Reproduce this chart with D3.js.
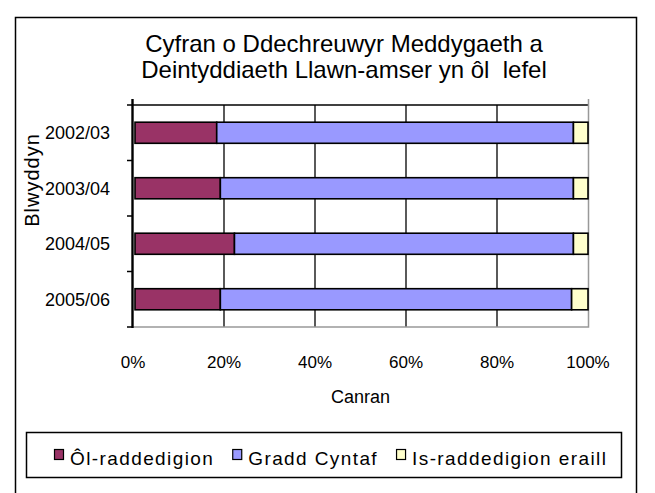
<!DOCTYPE html>
<html>
<head>
<meta charset="utf-8">
<script src="https://cdn.jsdelivr.net/npm/d3@7"></script>
<style>
  body { margin: 0; background: #fff; }
  svg { display: block; font-family: "Liberation Sans", Arial, sans-serif; }
</style>
</head>
<body>
<svg id="chart" width="655" height="493"></svg>
<script>
// chart data (percent of full-time starters)
const years = ["2002/03", "2003/04", "2004/05", "2005/06"];
const seriesNames = ["Ôl-raddedigion", "Gradd Cyntaf", "Is-raddedigion eraill"];
const olRadd = [18.4, 19.2, 22.3, 19.2];
const graddCyntaf = [78.4, 77.6, 74.5, 77.2];
const isRadd = [3.2, 3.2, 3.2, 3.6];
const xTicks = [0, 20, 40, 60, 80, 100];
const colors = ["#993366", "#9999ff", "#ffffcc"];
const titleLines = ["Cyfran o Ddechreuwyr Meddygaeth a", "Deintyddiaeth Llawn-amser yn ôl  lefel"];

const svg = d3.select("#chart");

// outer frame
svg.append("rect")
    .attr("x", 15.5).attr("y", 17.5)
    .attr("width", 621).attr("height", 500)
    .attr("fill", "#fff").attr("stroke", "#000").attr("stroke-width", 1.5);

const plot = { left: 133, right: 588, top: 105, bottom: 327 };

const x = d3.scaleLinear().domain([0, 100]).range([plot.left, plot.right]);
const y = d3.scaleBand().domain(years)
    .range([plot.top, plot.bottom])
    .paddingInner(0.62).paddingOuter(0.31);

// title
svg.append("text")
    .attr("x", 344).attr("y", 52)
    .attr("text-anchor", "middle")
    .attr("font-size", 24)
    .style("white-space", "pre")
    .selectAll("tspan")
    .data(titleLines)
    .join("tspan")
    .attr("x", 344)
    .attr("dy", (d, i) => i === 0 ? 0 : 26)
    .text(d => d);

// vertical gridlines
svg.append("g")
    .selectAll("line")
    .data(xTicks.filter(t => t > 0 && t < 100))
    .join("line")
    .attr("x1", d => x(d)).attr("x2", d => x(d))
    .attr("y1", plot.top).attr("y2", plot.bottom)
    .attr("stroke", "#000").attr("stroke-width", 1.3);

// plot borders
svg.append("line")
    .attr("x1", plot.left).attr("x2", plot.right)
    .attr("y1", plot.top).attr("y2", plot.top)
    .attr("stroke", "#000").attr("stroke-width", 1.6);
svg.append("path")
    .attr("d", `M${plot.left},${plot.bottom}H${plot.right + 0.5}V${plot.top - 6}`)
    .attr("fill", "none").attr("stroke", "#999").attr("stroke-width", 1.5);

// stacked bars
const rows = years.map((yr, i) => ({
    year: yr,
    [seriesNames[0]]: olRadd[i],
    [seriesNames[1]]: graddCyntaf[i],
    [seriesNames[2]]: isRadd[i]
}));
const stacked = d3.stack().keys(seriesNames)(rows);

svg.append("g")
    .selectAll("g")
    .data(stacked)
    .join("g")
    .attr("fill", (d, i) => colors[i])
    .selectAll("rect")
    .data(d => d)
    .join("rect")
    .attr("x", d => x(d[0]) + (d[0] === 0 ? 2 : 0))
    .attr("y", d => y(d.data.year))
    .attr("width", d => Math.max(0, x(d[1]) - x(d[0]) - (d[0] === 0 ? 2 : 0)))
    .attr("height", y.bandwidth())
    .attr("stroke", "#000").attr("stroke-width", 1.6);

// y axis line and ticks at band boundaries
const yAxis = svg.append("g");
yAxis.append("line")
    .attr("x1", plot.left - 0.5).attr("x2", plot.left - 0.5)
    .attr("y1", plot.top - 6).attr("y2", plot.bottom + 1)
    .attr("stroke", "#000").attr("stroke-width", 2.4);
const bounds = years.map(yr => y(yr) - y.step() * 0.31).concat([plot.bottom]);
yAxis.selectAll(".tick")
    .data(bounds)
    .join("line")
    .attr("x1", plot.left - 6).attr("x2", plot.left)
    .attr("y1", d => d).attr("y2", d => d)
    .attr("stroke", "#000").attr("stroke-width", 1.5);
yAxis.selectAll("text")
    .data(years)
    .join("text")
    .attr("x", 110).attr("y", d => y(d) + y.bandwidth() / 2)
    .attr("dy", "0.36em")
    .attr("text-anchor", "end")
    .attr("font-size", 18)
    .text(d => d);

// x axis labels
svg.append("g")
    .selectAll("text")
    .data(xTicks)
    .join("text")
    .attr("x", d => x(d)).attr("y", 368)
    .attr("text-anchor", "middle")
    .attr("font-size", 17)
    .text(d => d + "%");

// axis titles
svg.append("text")
    .attr("x", (plot.left + plot.right) / 2).attr("y", 403)
    .attr("text-anchor", "middle")
    .attr("font-size", 18)
    .text("Canran");
svg.append("text")
    .attr("transform", "translate(39,180) rotate(-90)")
    .attr("text-anchor", "middle")
    .attr("font-size", 20)
    .attr("letter-spacing", 1)
    .text("Blwyddyn");

// legend
svg.append("rect")
    .attr("x", 26.5).attr("y", 432.5)
    .attr("width", 595).attr("height", 45)
    .attr("fill", "#fff").attr("stroke", "#000").attr("stroke-width", 1.5);

let lx = 54;
seriesNames.forEach((name, i) => {
    svg.append("rect")
        .attr("x", lx + 0.5).attr("y", 449.5)
        .attr("width", 9).attr("height", 10)
        .attr("fill", colors[i]).attr("stroke", "#000").attr("stroke-width", 1.2);
    const t = svg.append("text")
        .attr("x", lx + 16).attr("y", 465)
        .attr("font-size", 19)
        .attr("letter-spacing", 1.4)
        .text(name);
    lx += 16 + t.node().getComputedTextLength() + 18;
});
</script>
</body>
</html>
